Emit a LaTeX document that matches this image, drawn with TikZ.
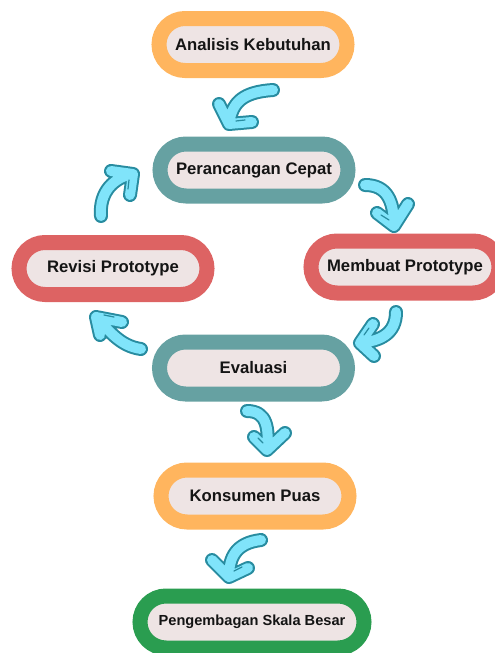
\documentclass[tikz,border=0pt]{standalone}
\usepackage{fontspec}
\setmainfont{Liberation Sans}
\usepackage{tikz}
\usetikzlibrary{shapes.misc}

\definecolor{jingga}{RGB}{255,181,94}
\definecolor{hijaubiru}{RGB}{102,161,162}
\definecolor{merah}{RGB}{221,99,99}
\definecolor{hijau}{RGB}{42,157,80}
\definecolor{isi}{RGB}{238,228,228}
\definecolor{teks}{RGB}{20,20,20}
\definecolor{biru}{RGB}{128,228,250}
\definecolor{garis}{RGB}{40,140,160}

\begin{document}
\begin{tikzpicture}[x=1pt,y=-1pt,
	kotak/.style={rounded rectangle, line width=15pt, fill=isi, text=teks, minimum width=188pt, minimum height=52pt, inner sep=0pt, font=\fontsize{16.7}{18}\selectfont\bfseries},
	panah/.style={line width=10pt, draw=biru, line cap=round, line join=round, preaction={draw=garis, line width=14pt, line cap=round, line join=round}},
	tanda/.style={draw=garis, line width=1.2pt, line cap=round}]
			\useasboundingbox (0,0) rectangle (495,653);
			\clip (0,0) rectangle (495,653);
			
			\node[kotak,draw=jingga] (analisis) at (253,44.5) {Analisis Kebutuhan};
			\node[kotak,draw=hijaubiru] (rancang) at (254,170) {Perancangan Cepat};
			\node[kotak,draw=merah] (revisi) at (113,268.5) {Revisi Prototype};
			\node[kotak,draw=merah] (buat) at (405,267) {Membuat Prototype};
			\node[kotak,draw=hijaubiru] (evaluasi) at (253.5,368) {Evaluasi};
			\node[kotak,draw=jingga] (puas) at (255,496) {Konsumen Puas};
			\node[kotak,draw=hijau,minimum width=224pt,font=\fontsize{14.6}{16}\selectfont\bfseries] (besar) at (252,622) {Pengembagan Skala Besar};
			
			% ujung panah
			\coordinate (a1) at (273,90);  \coordinate (b1) at (229,124);
			\coordinate (a2) at (101,216); \coordinate (b2) at (133,174);
			\coordinate (a3) at (365,185); \coordinate (b3) at (394,226);
			\coordinate (a4) at (396,312); \coordinate (b4) at (360,343);
			\coordinate (a5) at (141,349); \coordinate (b5) at (96,317);
			\coordinate (a6) at (247,411); \coordinate (b6) at (267,450);
			\coordinate (a7) at (261,540); \coordinate (b7) at (229,577);
			
			\draw[panah] (a1) .. controls +(-30,2) and +(3,-22) .. (b1) -- +(-10,-20) (b1) -- +(23,-2);
			\draw[panah] (a2) .. controls +(-2,-25) and +(-18,3) .. (b2) -- +(-22,-3) (b2) -- +(-3,21);
			\draw[panah] (a3) .. controls +(22,0) and +(0,-25) .. (b3) -- +(14,-22) (b3) -- +(-17,-13);
			\draw[panah] (a4) .. controls +(0,22) and +(20,-2) .. (b4) -- +(13,-19) (b4) -- +(14,13);
			\draw[panah] (a5) .. controls +(-22,-3) and +(12,12) .. (b5) -- +(26,5) (b5) -- +(4,18);
			\draw[panah] (a6) .. controls +(20,0) and +(2,-22) .. (b6) -- +(18,-17) (b6) -- +(-13,-13);
			\draw[panah] (a7) .. controls +(-25,3) and +(0,-20) .. (b7) -- +(-17,-17) (b7) -- +(19,-9);
			
			% garis kecil di kepala panah
			\path[tanda] (b1) ++(7,-3) -- ++(9,-1);
			\path[tanda] (b2) ++(-4,6) -- ++(-1,9);
			\path[tanda] (b3) ++(-5,-6) -- ++(-8,-5);
			\path[tanda] (b4) ++(4,-8) -- ++(5,-7);
			\path[tanda] (b5) ++(8,-2) -- ++(10,2);
			\path[tanda] (b6) ++(-4,-7) -- ++(-5,-5);
			\path[tanda] (b7) ++(5,-6) -- ++(8,-4);
			\end{tikzpicture}
\end{document}
